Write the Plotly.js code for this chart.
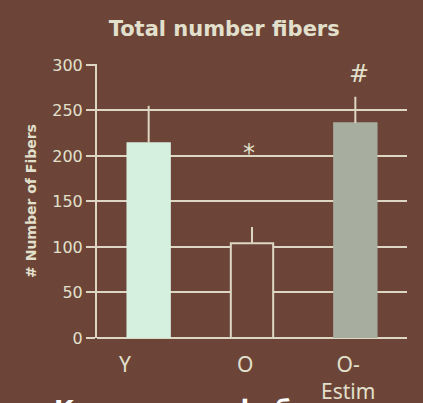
<!DOCTYPE html>
<html>
<head>
<meta charset="utf-8">
<script src="https://cdn.plot.ly/plotly-3.0.1.min.js"></script>
<style>
  html, body { margin: 0; padding: 0; background: #6c4538; }
  #chart { width: 423px; height: 403px; }
</style>
</head>
<body>
<div id="chart"></div>
<script>
// ---- data ----
const categories = ['Y', 'O', 'O-'];
const categoryLabels = ['Y', 'O', 'O-<br>Estim'];
const meanFibers = [214, 104, 236];
const errorUp = [41, 18, 29];
const sigLabels = ['', '*', '#'];
const sigLevels = [null, 203, 290];
const yTicks = [0, 50, 100, 150, 200, 250, 300];
const chartTitle = 'Total number fibers';
const yTitle = '# Number of Fibers';
const captionText = 'Количество фиб';

// ---- style ----
const bg = '#6c4538';
const lineCol = '#ddd6c2';
const textCol = '#e2e0cc';
const barFills = ['#d6f0df', bg, '#a7ae9f'];
const barLines = ['#d6f0df', lineCol, '#a7ae9f'];
const labelShift = [-24, -7, -7];

const trace = {
  type: 'bar',
  x: categories,
  y: meanFibers,
  width: 0.41,
  marker: { color: barFills, line: { color: barLines, width: 2 } },
  error_y: {
    type: 'data', symmetric: false, array: errorUp,
    arrayminus: meanFibers.map(() => 0),
    color: lineCol, thickness: 2, width: 0
  },
  hoverinfo: 'skip'
};

const annotations = [];
categories.forEach((c, i) => {
  annotations.push({
    x: c, y: 0, xref: 'x', yref: 'paper', yanchor: 'top', xanchor: 'center',
    yshift: -10, xshift: labelShift[i], showarrow: false,
    text: categoryLabels[i],
    font: { family: 'Noto Sans, sans-serif', size: 21, color: textCol }
  });
  if (sigLabels[i]) {
    annotations.push({
      x: c, y: sigLevels[i], xref: 'x', yref: 'y', showarrow: false,
      text: sigLabels[i], xshift: i === 2 ? 4 : -3,
      font: { family: 'DejaVu Sans, sans-serif', size: 24, color: textCol }
    });
  }
});
annotations.push({
  x: -0.145, y: -0.2, xref: 'paper', yref: 'paper', xanchor: 'left', yanchor: 'top',
  showarrow: false, text: '<b>' + captionText + '</b>',
  font: { family: 'DejaVu Sans, sans-serif', size: 25, color: '#ffffff' }
});

const layout = {
  width: 423, height: 403,
  paper_bgcolor: bg, plot_bgcolor: bg,
  margin: { l: 97, r: 16, t: 64, b: 65 },
  showlegend: false,
  title: {
    text: '<b>' + chartTitle + '</b>',
    x: 0.53, xanchor: 'center', y: 0.93, yanchor: 'middle',
    font: { family: 'DejaVu Sans, sans-serif', size: 21, color: textCol }
  },
  xaxis: {
    type: 'category', range: [-0.5, 2.5],
    showticklabels: false, ticks: '', showgrid: false,
    showline: false, zeroline: false, fixedrange: true
  },
  yaxis: {
    range: [0, 301], tickvals: yTicks,
    ticks: 'outside', ticklen: 9, tickwidth: 2, tickcolor: lineCol,
    showgrid: true, gridcolor: lineCol, gridwidth: 2,
    showline: true, linecolor: lineCol, linewidth: 2,
    zeroline: true, zerolinecolor: lineCol, zerolinewidth: 2,
    tickfont: { family: 'DejaVu Sans, sans-serif', size: 16, color: textCol },
    title: {
      text: '<b>' + yTitle + '</b>', standoff: 12,
      font: { family: 'DejaVu Sans, sans-serif', size: 14, color: textCol }
    },
    fixedrange: true
  },
  annotations: annotations
};

Plotly.newPlot('chart', [trace], layout, { displayModeBar: false, staticPlot: true });
</script>
</body>
</html>
